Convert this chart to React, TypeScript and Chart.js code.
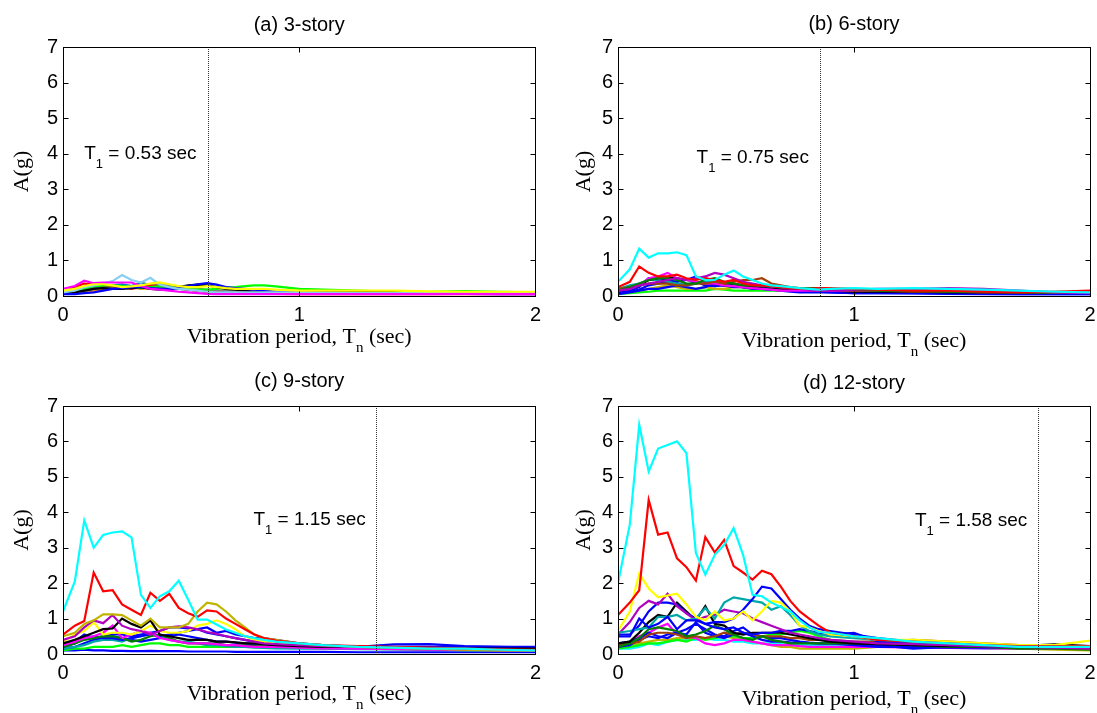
import React, { useEffect, useRef } from "react";
import { Chart, registerables } from "chart.js";

Chart.register(...registerables);
Chart.defaults.font.family = '"Liberation Sans", Arial, sans-serif';

// ---------------- DATA ----------------
const periods = [0, 0.05, 0.09, 0.13, 0.17, 0.21, 0.25, 0.29, 0.33, 0.37, 0.41, 0.45, 0.49, 0.53, 0.57, 0.61, 0.65, 0.69, 0.73, 0.77, 0.81, 0.85, 0.9, 1.0, 1.1, 1.25, 1.4, 1.55, 1.7, 1.85, 2.0];

const xTicks = [0, 1, 2];
const yTicks = [0, 1, 2, 3, 4, 5, 6, 7];

const titles = ["(a) 3-story", "(b) 6-story", "(c) 9-story", "(d) 12-story"];
const t1Values = ["0.53", "0.75", "1.15", "1.58"];
const t1LinePeriods = [0.613, 0.856, 1.323, 1.78];

// (a) 3-story
const a_lightblue = [0.10, 0.15, 0.25, 0.30, 0.35, 0.42, 0.59, 0.45, 0.38, 0.51, 0.32, 0.25, 0.20, 0.18, 0.15, 0.12, 0.10, 0.10, 0.10, 0.10, 0.10, 0.10, 0.10, 0.10, 0.09, 0.08, 0.08, 0.08, 0.08, 0.08, 0.08];
const a_magenta = [0.20, 0.28, 0.43, 0.36, 0.38, 0.38, 0.38, 0.38, 0.28, 0.20, 0.18, 0.15, 0.12, 0.10, 0.08, 0.06, 0.05, 0.05, 0.05, 0.05, 0.05, 0.05, 0.05, 0.05, 0.05, 0.05, 0.05, 0.05, 0.06, 0.05, 0.05];
const a_yellow = [0.15, 0.20, 0.28, 0.33, 0.33, 0.30, 0.25, 0.27, 0.30, 0.35, 0.38, 0.33, 0.28, 0.25, 0.25, 0.28, 0.25, 0.22, 0.20, 0.20, 0.20, 0.20, 0.18, 0.15, 0.15, 0.15, 0.15, 0.13, 0.12, 0.12, 0.12];
const a_blue = [0.05, 0.05, 0.08, 0.10, 0.15, 0.20, 0.22, 0.25, 0.25, 0.22, 0.20, 0.20, 0.22, 0.28, 0.33, 0.36, 0.32, 0.25, 0.22, 0.20, 0.18, 0.15, 0.12, 0.10, 0.10, 0.08, 0.08, 0.07, 0.06, 0.05, 0.05];
const a_black = [0.08, 0.10, 0.15, 0.20, 0.22, 0.20, 0.20, 0.22, 0.25, 0.20, 0.18, 0.20, 0.25, 0.30, 0.32, 0.30, 0.25, 0.20, 0.18, 0.15, 0.12, 0.12, 0.10, 0.10, 0.12, 0.12, 0.10, 0.08, 0.08, 0.07, 0.06];
const a_green = [0.10, 0.15, 0.20, 0.28, 0.30, 0.30, 0.28, 0.25, 0.22, 0.25, 0.28, 0.25, 0.22, 0.20, 0.18, 0.18, 0.20, 0.24, 0.25, 0.28, 0.30, 0.30, 0.27, 0.20, 0.18, 0.15, 0.12, 0.12, 0.14, 0.12, 0.10];
const a_red = [0.10, 0.25, 0.35, 0.32, 0.30, 0.28, 0.25, 0.20, 0.25, 0.30, 0.28, 0.25, 0.22, 0.18, 0.15, 0.12, 0.10, 0.08, 0.08, 0.07, 0.07, 0.06, 0.06, 0.05, 0.05, 0.05, 0.05, 0.05, 0.05, 0.05, 0.05];
const a_orange = [0.05, 0.08, 0.12, 0.15, 0.18, 0.20, 0.22, 0.25, 0.20, 0.22, 0.25, 0.22, 0.20, 0.18, 0.15, 0.12, 0.10, 0.10, 0.10, 0.10, 0.10, 0.10, 0.10, 0.10, 0.10, 0.10, 0.10, 0.10, 0.08, 0.08, 0.08];
const a_steel = [0.05, 0.10, 0.15, 0.20, 0.25, 0.30, 0.33, 0.28, 0.38, 0.30, 0.25, 0.22, 0.20, 0.18, 0.15, 0.12, 0.10, 0.10, 0.09, 0.09, 0.08, 0.08, 0.08, 0.08, 0.10, 0.10, 0.09, 0.08, 0.07, 0.06, 0.06];
const a_gray = [0.10, 0.15, 0.20, 0.22, 0.22, 0.25, 0.30, 0.28, 0.25, 0.30, 0.35, 0.30, 0.25, 0.22, 0.20, 0.18, 0.15, 0.15, 0.13, 0.12, 0.12, 0.12, 0.12, 0.10, 0.10, 0.10, 0.10, 0.09, 0.08, 0.08, 0.08];
const a_olive = [0.12, 0.15, 0.18, 0.25, 0.28, 0.25, 0.22, 0.25, 0.28, 0.32, 0.30, 0.28, 0.24, 0.20, 0.18, 0.16, 0.15, 0.14, 0.13, 0.12, 0.12, 0.12, 0.12, 0.12, 0.12, 0.11, 0.10, 0.10, 0.10, 0.10, 0.10];

// (b) 6-story
const b_cyan = [0.40, 0.75, 1.33, 1.08, 1.20, 1.20, 1.23, 1.15, 0.55, 0.45, 0.45, 0.60, 0.72, 0.55, 0.45, 0.35, 0.30, 0.28, 0.25, 0.22, 0.20, 0.18, 0.20, 0.22, 0.20, 0.22, 0.20, 0.18, 0.15, 0.12, 0.10];
const b_red = [0.25, 0.40, 0.83, 0.65, 0.55, 0.55, 0.60, 0.50, 0.45, 0.50, 0.45, 0.40, 0.45, 0.35, 0.30, 0.30, 0.28, 0.25, 0.22, 0.20, 0.20, 0.22, 0.22, 0.20, 0.18, 0.15, 0.15, 0.12, 0.10, 0.12, 0.15];
const b_purple = [0.15, 0.20, 0.30, 0.35, 0.40, 0.45, 0.50, 0.45, 0.50, 0.55, 0.65, 0.60, 0.50, 0.40, 0.35, 0.30, 0.28, 0.25, 0.22, 0.20, 0.18, 0.15, 0.15, 0.18, 0.20, 0.20, 0.22, 0.20, 0.15, 0.10, 0.08];
const b_brown = [0.20, 0.25, 0.30, 0.35, 0.35, 0.35, 0.30, 0.30, 0.35, 0.35, 0.40, 0.35, 0.40, 0.45, 0.45, 0.50, 0.35, 0.30, 0.25, 0.22, 0.20, 0.20, 0.18, 0.15, 0.15, 0.12, 0.12, 0.10, 0.10, 0.10, 0.10];
const b_dkgreen = [0.15, 0.25, 0.35, 0.45, 0.50, 0.50, 0.45, 0.35, 0.35, 0.45, 0.50, 0.40, 0.35, 0.30, 0.30, 0.30, 0.28, 0.25, 0.22, 0.22, 0.22, 0.22, 0.20, 0.18, 0.15, 0.15, 0.12, 0.12, 0.10, 0.10, 0.10];
const b_blue1 = [0.10, 0.15, 0.25, 0.50, 0.50, 0.45, 0.40, 0.45, 0.55, 0.40, 0.35, 0.40, 0.35, 0.30, 0.25, 0.25, 0.22, 0.20, 0.20, 0.18, 0.15, 0.12, 0.10, 0.08, 0.08, 0.08, 0.07, 0.06, 0.05, 0.05, 0.05];
const b_blue2 = [0.05, 0.10, 0.15, 0.20, 0.20, 0.25, 0.30, 0.25, 0.20, 0.25, 0.35, 0.30, 0.25, 0.25, 0.20, 0.20, 0.18, 0.15, 0.12, 0.10, 0.10, 0.10, 0.10, 0.08, 0.08, 0.07, 0.06, 0.05, 0.05, 0.05, 0.05];
const b_blue3 = [0.08, 0.12, 0.18, 0.30, 0.35, 0.40, 0.35, 0.30, 0.40, 0.30, 0.28, 0.30, 0.28, 0.25, 0.22, 0.20, 0.18, 0.18, 0.16, 0.15, 0.14, 0.12, 0.12, 0.10, 0.10, 0.10, 0.08, 0.08, 0.08, 0.07, 0.07];
const b_olive = [0.10, 0.12, 0.15, 0.20, 0.25, 0.30, 0.25, 0.20, 0.20, 0.25, 0.20, 0.20, 0.25, 0.25, 0.20, 0.20, 0.18, 0.15, 0.15, 0.15, 0.15, 0.14, 0.13, 0.12, 0.12, 0.11, 0.10, 0.10, 0.10, 0.10, 0.10];
const b_black = [0.15, 0.20, 0.30, 0.45, 0.50, 0.50, 0.50, 0.45, 0.40, 0.35, 0.35, 0.30, 0.30, 0.25, 0.25, 0.22, 0.20, 0.18, 0.18, 0.18, 0.15, 0.15, 0.15, 0.12, 0.12, 0.12, 0.10, 0.10, 0.10, 0.10, 0.10];
const b_teal = [0.20, 0.30, 0.35, 0.45, 0.45, 0.40, 0.35, 0.30, 0.35, 0.40, 0.45, 0.35, 0.30, 0.30, 0.30, 0.25, 0.22, 0.20, 0.20, 0.18, 0.18, 0.17, 0.16, 0.15, 0.15, 0.14, 0.13, 0.12, 0.12, 0.12, 0.12];
const b_green = [0.05, 0.08, 0.10, 0.12, 0.15, 0.15, 0.15, 0.15, 0.15, 0.15, 0.20, 0.18, 0.15, 0.15, 0.15, 0.15, 0.15, 0.15, 0.18, 0.20, 0.22, 0.20, 0.18, 0.15, 0.14, 0.13, 0.12, 0.10, 0.10, 0.10, 0.10];
const b_magenta = [0.15, 0.20, 0.30, 0.50, 0.55, 0.65, 0.50, 0.45, 0.40, 0.35, 0.35, 0.30, 0.28, 0.25, 0.22, 0.20, 0.18, 0.15, 0.15, 0.15, 0.15, 0.15, 0.15, 0.15, 0.15, 0.15, 0.15, 0.14, 0.12, 0.10, 0.10];

// (c) 9-story
const c_cyan = [1.20, 2.05, 3.77, 3.00, 3.36, 3.43, 3.46, 3.29, 1.67, 1.30, 1.63, 1.77, 2.07, 1.53, 0.97, 0.97, 0.83, 0.69, 0.60, 0.50, 0.45, 0.40, 0.35, 0.30, 0.25, 0.20, 0.18, 0.15, 0.15, 0.12, 0.10];
const c_red = [0.55, 0.80, 0.93, 2.30, 1.77, 1.80, 1.40, 1.25, 1.10, 1.73, 1.50, 1.70, 1.30, 1.15, 1.05, 1.23, 1.20, 1.00, 0.85, 0.70, 0.55, 0.45, 0.38, 0.30, 0.25, 0.22, 0.20, 0.18, 0.15, 0.13, 0.12];
const c_olive = [0.50, 0.60, 0.85, 0.95, 1.12, 1.12, 1.10, 0.95, 0.80, 1.00, 0.75, 0.75, 0.75, 0.85, 1.20, 1.45, 1.40, 1.20, 0.95, 0.75, 0.55, 0.45, 0.40, 0.30, 0.25, 0.20, 0.18, 0.15, 0.12, 0.10, 0.10];
const c_purple = [0.40, 0.50, 0.75, 0.95, 0.87, 1.10, 0.80, 0.70, 0.65, 0.55, 0.65, 0.75, 0.78, 0.75, 0.70, 0.62, 0.57, 0.50, 0.45, 0.40, 0.35, 0.30, 0.28, 0.25, 0.22, 0.20, 0.18, 0.15, 0.13, 0.12, 0.10];
const c_black = [0.30, 0.40, 0.50, 0.60, 0.70, 0.72, 1.00, 0.85, 0.75, 0.95, 0.55, 0.50, 0.45, 0.40, 0.40, 0.40, 0.35, 0.35, 0.33, 0.30, 0.30, 0.28, 0.25, 0.22, 0.20, 0.20, 0.18, 0.16, 0.15, 0.15, 0.15];
const c_yellow = [0.35, 0.55, 0.65, 0.90, 0.55, 0.60, 0.60, 0.55, 0.65, 0.80, 0.65, 0.60, 0.60, 0.65, 0.80, 0.85, 0.95, 0.85, 0.70, 0.50, 0.40, 0.35, 0.30, 0.25, 0.22, 0.20, 0.18, 0.15, 0.13, 0.12, 0.12];
const c_magenta = [0.25, 0.35, 0.45, 0.50, 0.60, 0.80, 0.45, 0.55, 0.65, 0.60, 0.45, 0.40, 0.35, 0.30, 0.30, 0.30, 0.28, 0.25, 0.25, 0.22, 0.20, 0.20, 0.20, 0.18, 0.16, 0.15, 0.14, 0.12, 0.12, 0.10, 0.10];
const c_blue1 = [0.30, 0.35, 0.55, 0.45, 0.50, 0.55, 0.55, 0.50, 0.55, 0.60, 0.65, 0.75, 0.75, 0.72, 0.70, 0.75, 0.60, 0.65, 0.55, 0.50, 0.45, 0.45, 0.40, 0.30, 0.22, 0.20, 0.27, 0.28, 0.22, 0.20, 0.18];
const c_blue2 = [0.10, 0.10, 0.12, 0.10, 0.10, 0.09, 0.09, 0.08, 0.08, 0.09, 0.08, 0.08, 0.08, 0.07, 0.07, 0.07, 0.07, 0.07, 0.06, 0.06, 0.06, 0.06, 0.06, 0.06, 0.06, 0.05, 0.05, 0.05, 0.05, 0.05, 0.05];
const c_blue3 = [0.20, 0.30, 0.45, 0.50, 0.45, 0.45, 0.40, 0.45, 0.50, 0.55, 0.50, 0.55, 0.60, 0.65, 0.70, 0.60, 0.55, 0.50, 0.45, 0.40, 0.35, 0.35, 0.35, 0.30, 0.25, 0.20, 0.18, 0.15, 0.14, 0.13, 0.12];
const c_blue4 = [0.15, 0.20, 0.30, 0.40, 0.45, 0.50, 0.45, 0.40, 0.35, 0.40, 0.45, 0.50, 0.55, 0.50, 0.45, 0.40, 0.35, 0.35, 0.32, 0.30, 0.28, 0.26, 0.25, 0.22, 0.20, 0.20, 0.20, 0.20, 0.20, 0.20, 0.20];
const c_dkgreen = [0.20, 0.30, 0.40, 0.45, 0.50, 0.50, 0.45, 0.35, 0.40, 0.50, 0.55, 0.45, 0.35, 0.30, 0.30, 0.30, 0.30, 0.25, 0.25, 0.24, 0.23, 0.22, 0.21, 0.20, 0.20, 0.20, 0.15, 0.13, 0.12, 0.10, 0.10];
const c_cyan2 = [0.15, 0.20, 0.25, 0.35, 0.40, 0.40, 0.35, 0.45, 0.50, 0.60, 0.50, 0.40, 0.35, 0.35, 0.30, 0.25, 0.25, 0.22, 0.20, 0.20, 0.18, 0.17, 0.16, 0.15, 0.15, 0.14, 0.13, 0.12, 0.12, 0.11, 0.10];
const c_green = [0.10, 0.15, 0.15, 0.20, 0.20, 0.20, 0.25, 0.20, 0.25, 0.30, 0.30, 0.25, 0.25, 0.20, 0.20, 0.20, 0.20, 0.20, 0.20, 0.20, 0.20, 0.20, 0.18, 0.17, 0.16, 0.15, 0.14, 0.12, 0.11, 0.10, 0.10];

// (d) 12-story
const d_cyan = [2.00, 3.65, 6.47, 5.15, 5.80, 5.90, 6.00, 5.67, 2.85, 2.24, 2.80, 3.08, 3.55, 2.80, 1.67, 1.63, 1.45, 1.33, 1.20, 0.95, 0.75, 0.62, 0.60, 0.50, 0.45, 0.35, 0.30, 0.25, 0.20, 0.20, 0.20];
const d_red = [1.10, 1.45, 1.80, 4.35, 3.37, 3.43, 2.70, 2.45, 2.07, 3.30, 2.87, 3.22, 2.48, 2.30, 2.10, 2.35, 2.25, 1.90, 1.50, 1.20, 1.00, 0.80, 0.60, 0.50, 0.40, 0.35, 0.30, 0.25, 0.22, 0.22, 0.22];
const d_yellow = [0.65, 1.20, 2.27, 1.85, 1.60, 1.65, 1.70, 1.40, 1.05, 0.95, 1.20, 0.95, 1.00, 1.20, 0.95, 1.20, 1.50, 1.45, 1.20, 0.80, 0.75, 0.65, 0.55, 0.50, 0.40, 0.40, 0.35, 0.30, 0.25, 0.25, 0.38];
const d_blue1 = [0.50, 0.50, 1.00, 0.75, 0.85, 1.05, 0.70, 0.95, 0.95, 0.85, 0.90, 0.90, 1.00, 1.25, 1.55, 1.90, 1.85, 1.55, 1.25, 1.00, 0.80, 0.70, 0.65, 0.55, 0.45, 0.35, 0.30, 0.25, 0.25, 0.25, 0.20];
const d_blue2 = [0.55, 0.55, 0.80, 1.20, 1.45, 1.45, 1.40, 1.15, 1.00, 0.85, 0.75, 0.70, 0.75, 0.60, 0.55, 0.60, 0.60, 0.65, 0.65, 0.70, 0.65, 0.60, 0.55, 0.60, 0.35, 0.30, 0.25, 0.22, 0.20, 0.20, 0.20];
const d_teal = [0.60, 0.65, 0.70, 0.75, 1.05, 1.05, 1.10, 0.95, 1.00, 1.30, 1.00, 1.45, 1.60, 1.55, 1.50, 1.45, 1.25, 1.35, 1.10, 0.80, 0.65, 0.55, 0.50, 0.45, 0.40, 0.35, 0.30, 0.25, 0.22, 0.20, 0.20];
const d_purple = [0.55, 0.90, 1.30, 1.50, 1.40, 1.70, 1.35, 1.15, 0.95, 1.05, 1.10, 1.25, 1.20, 1.15, 1.00, 0.90, 0.80, 0.70, 0.60, 0.55, 0.50, 0.45, 0.40, 0.35, 0.30, 0.28, 0.25, 0.22, 0.20, 0.18, 0.15];
const d_black = [0.30, 0.35, 0.60, 0.90, 1.10, 1.05, 1.45, 1.20, 0.95, 1.35, 0.85, 0.80, 0.60, 0.55, 0.60, 0.60, 0.60, 0.60, 0.55, 0.50, 0.45, 0.40, 0.35, 0.30, 0.28, 0.25, 0.22, 0.22, 0.22, 0.27, 0.22];
const d_dkgreen = [0.20, 0.30, 0.45, 0.70, 0.75, 0.70, 0.65, 0.50, 0.55, 0.65, 0.80, 0.70, 0.55, 0.45, 0.40, 0.50, 0.40, 0.35, 0.30, 0.30, 0.30, 0.30, 0.30, 0.30, 0.30, 0.25, 0.20, 0.20, 0.15, 0.15, 0.12];
const d_brown = [0.25, 0.30, 0.35, 0.55, 0.60, 0.60, 0.55, 0.45, 0.50, 0.45, 0.50, 0.60, 0.55, 0.60, 0.55, 0.50, 0.50, 0.50, 0.45, 0.45, 0.40, 0.40, 0.40, 0.35, 0.35, 0.40, 0.35, 0.30, 0.25, 0.20, 0.20];
const d_magenta = [0.20, 0.30, 0.50, 0.60, 0.75, 0.85, 0.55, 0.50, 0.45, 0.30, 0.25, 0.30, 0.40, 0.40, 0.35, 0.30, 0.25, 0.25, 0.25, 0.22, 0.20, 0.20, 0.20, 0.20, 0.20, 0.18, 0.17, 0.16, 0.15, 0.15, 0.15];
const d_green = [0.15, 0.20, 0.25, 0.30, 0.30, 0.35, 0.40, 0.35, 0.45, 0.40, 0.45, 0.50, 0.50, 0.45, 0.45, 0.50, 0.55, 0.55, 0.60, 0.65, 0.60, 0.50, 0.40, 0.30, 0.25, 0.22, 0.20, 0.20, 0.18, 0.18, 0.15];
const d_olive = [0.25, 0.25, 0.30, 0.35, 0.40, 0.40, 0.45, 0.45, 0.45, 0.45, 0.50, 0.50, 0.45, 0.40, 0.35, 0.30, 0.25, 0.20, 0.20, 0.15, 0.15, 0.15, 0.15, 0.15, 0.20, 0.20, 0.18, 0.17, 0.15, 0.12, 0.10];
const d_blue3 = [0.30, 0.35, 0.45, 0.60, 0.50, 0.45, 0.60, 0.70, 0.85, 0.70, 0.55, 0.50, 0.65, 0.75, 0.55, 0.50, 0.45, 0.45, 0.40, 0.35, 0.32, 0.30, 0.30, 0.25, 0.20, 0.20, 0.18, 0.18, 0.18, 0.17, 0.17];
const d_blue4 = [0.20, 0.25, 0.40, 0.50, 0.45, 0.55, 0.60, 0.55, 0.90, 0.60, 0.50, 0.45, 0.55, 0.60, 0.50, 0.40, 0.35, 0.35, 0.33, 0.32, 0.31, 0.30, 0.30, 0.30, 0.25, 0.15, 0.20, 0.20, 0.20, 0.20, 0.20];
const d_cyan2 = [0.15, 0.15, 0.20, 0.30, 0.25, 0.35, 0.40, 0.40, 0.40, 0.45, 0.40, 0.40, 0.35, 0.35, 0.30, 0.30, 0.30, 0.28, 0.25, 0.25, 0.25, 0.25, 0.25, 0.22, 0.20, 0.20, 0.18, 0.15, 0.15, 0.15, 0.15];

// ---------------- STYLE ----------------
const C = {
  cyan: "#00FFFF", red: "#FF0000", yellow: "#FFFF00", blue: "#0000FF", teal: "#00A8A8",
  purple: "#B000C0", black: "#000000", dkgreen: "#008000", brown: "#A0400A", magenta: "#FF00FF",
  green: "#00FF00", olive: "#C0B400", lightblue: "#87CEF0", orange: "#FF8C00", steel: "#0080C0", gray: "#808080",
};

type Series = { color: string; values: number[] };

const seriesA: Series[] = [
  { color: C.yellow, values: a_yellow }, { color: C.magenta, values: a_magenta }, { color: C.lightblue, values: a_lightblue },
  { color: C.blue, values: a_blue }, { color: C.black, values: a_black }, { color: C.green, values: a_green },
  { color: C.red, values: a_red }, { color: C.steel, values: a_steel }, { color: C.orange, values: a_orange },
  { color: C.gray, values: a_gray }, { color: C.olive, values: a_olive },
];
const seriesB: Series[] = [
  { color: C.cyan, values: b_cyan }, { color: C.red, values: b_red }, { color: C.purple, values: b_purple },
  { color: C.dkgreen, values: b_dkgreen }, { color: C.brown, values: b_brown }, { color: C.magenta, values: b_magenta },
  { color: C.black, values: b_black }, { color: C.teal, values: b_teal }, { color: C.blue, values: b_blue1 },
  { color: C.blue, values: b_blue2 }, { color: C.blue, values: b_blue3 }, { color: C.olive, values: b_olive },
  { color: C.green, values: b_green },
];
const seriesC: Series[] = [
  { color: C.cyan, values: c_cyan }, { color: C.red, values: c_red }, { color: C.olive, values: c_olive },
  { color: C.purple, values: c_purple }, { color: C.black, values: c_black }, { color: C.yellow, values: c_yellow },
  { color: C.magenta, values: c_magenta }, { color: C.dkgreen, values: c_dkgreen }, { color: C.blue, values: c_blue1 },
  { color: C.blue, values: c_blue3 }, { color: C.teal, values: c_cyan2 }, { color: C.blue, values: c_blue4 },
  { color: C.green, values: c_green }, { color: C.blue, values: c_blue2 },
];
const seriesD: Series[] = [
  { color: C.cyan, values: d_cyan }, { color: C.red, values: d_red }, { color: C.yellow, values: d_yellow },
  { color: C.blue, values: d_blue1 }, { color: C.teal, values: d_teal }, { color: C.purple, values: d_purple },
  { color: C.blue, values: d_blue2 }, { color: C.black, values: d_black }, { color: C.dkgreen, values: d_dkgreen },
  { color: C.brown, values: d_brown }, { color: C.blue, values: d_blue3 }, { color: C.blue, values: d_blue4 },
  { color: C.magenta, values: d_magenta }, { color: C.green, values: d_green }, { color: C.olive, values: d_olive },
  { color: C.cyan, values: d_cyan2 },
];
const allSeries = [seriesA, seriesB, seriesC, seriesD];

// layout of each panel (figure pixels)
const panels = [
  { left: 0, top: 0, width: 548, height: 356, area: { l: 63, r: 537, t: 47, b: 296 }, yTitlePad: 9, titleY: 25, xLabelY: 343, t1Pos: [0.09, 3.85] },
  { left: 548, top: 0, width: 562, height: 356, area: { l: 618, r: 1090, t: 47, b: 296 }, yTitlePad: 23, titleY: 24, xLabelY: 347, t1Pos: [0.333, 3.74] },
  { left: 0, top: 356, width: 548, height: 357, area: { l: 63, r: 537, t: 406, b: 654 }, yTitlePad: 9, titleY: 25, xLabelY: 344, t1Pos: [0.806, 3.64] },
  { left: 548, top: 356, width: 562, height: 357, area: { l: 618, r: 1090, t: 406, b: 654 }, yTitlePad: 23, titleY: 27, xLabelY: 349, t1Pos: [1.258, 3.61] },
];

const SANS = '"Liberation Sans", Arial, sans-serif';
const SERIF = '"Liberation Serif", "Times New Roman", serif';

function Panel({ idx }: { idx: number }) {
  const ref = useRef<HTMLCanvasElement>(null);
  const p = panels[idx];
  useEffect(() => {
    const canvas = ref.current!;
    const overlay = {
      id: "overlay",
      afterDatasetsDraw(chart: any) {
        const { ctx, chartArea: ca } = chart;
        const xs = chart.scales.x;
        const ys = chart.scales.y;
        ctx.save();
        // dotted T1 line
        const lx = Math.round(xs.getPixelForValue(t1LinePeriods[idx])) + 0.5;
        ctx.strokeStyle = "#333";
        ctx.lineWidth = 1;
        ctx.setLineDash([1, 1]);
        ctx.beginPath();
        ctx.moveTo(lx, ca.top);
        ctx.lineTo(lx, ca.bottom);
        ctx.stroke();
        ctx.setLineDash([]);
        // box
        ctx.strokeStyle = "#000";
        const L = Math.round(ca.left) + 0.5, R = Math.round(ca.right) + 0.5;
        const T = Math.round(ca.top) + 0.5, B = Math.round(ca.bottom) + 0.5;
        ctx.strokeRect(L, T, R - L, B - T);
        // inward ticks
        const tl = 5;
        ctx.beginPath();
        xs.ticks.forEach((t: any) => {
          const px = Math.round(xs.getPixelForValue(t.value)) + 0.5;
          ctx.moveTo(px, B); ctx.lineTo(px, B - tl);
          ctx.moveTo(px, T); ctx.lineTo(px, T + tl);
        });
        ys.ticks.forEach((t: any) => {
          const py = Math.round(ys.getPixelForValue(t.value)) + 0.5;
          ctx.moveTo(L, py); ctx.lineTo(L + tl, py);
          ctx.moveTo(R, py); ctx.lineTo(R - tl, py);
        });
        ctx.stroke();
        ctx.restore();
      },
      afterDraw(chart: any) {
        const { ctx, chartArea: ca } = chart;
        const xs = chart.scales.x;
        const ys = chart.scales.y;
        const cx = (ca.left + ca.right) / 2;
        ctx.save();
        ctx.fillStyle = "#000";
        // title
        ctx.font = `20px ${SANS}`;
        ctx.textAlign = "center";
        ctx.textBaseline = "middle";
        ctx.fillText(titles[idx], cx, p.titleY);
        // x label with subscript
        ctx.textAlign = "left";
        ctx.textBaseline = "alphabetic";
        const mainF = `22px ${SERIF}`, subF = `15px ${SERIF}`;
        const s1 = "Vibration period, T", s2 = "n", s3 = " (sec)";
        ctx.font = mainF; const w1 = ctx.measureText(s1).width; const w3 = ctx.measureText(s3).width;
        ctx.font = subF; const w2 = ctx.measureText(s2).width;
        const x0 = cx - (w1 + w2 + w3) / 2;
        ctx.font = mainF; ctx.fillText(s1, x0, p.xLabelY);
        ctx.font = subF; ctx.fillText(s2, x0 + w1, p.xLabelY + 9);
        ctx.font = mainF; ctx.fillText(s3, x0 + w1 + w2, p.xLabelY);
        // T1 annotation
        const tx = xs.getPixelForValue(p.t1Pos[0]);
        const ty = ys.getPixelForValue(p.t1Pos[1]);
        const m1 = "T", m2 = "1", m3 = ` = ${t1Values[idx]} sec`;
        const aF = `19px ${SANS}`, aS = `13px ${SANS}`;
        ctx.font = aF; const q1 = ctx.measureText(m1).width;
        ctx.font = aS; const q2 = ctx.measureText(m2).width;
        ctx.font = aF; ctx.fillText(m1, tx, ty);
        ctx.font = aS; ctx.fillText(m2, tx + q1, ty + 9);
        ctx.font = aF; ctx.fillText(m3, tx + q1 + q2, ty);
        ctx.restore();
      },
    };

    const datasets = allSeries[idx].map((s) => ({
      data: periods.map((x, i) => ({ x, y: s.values[i] })),
      borderColor: s.color,
      backgroundColor: s.color,
      borderWidth: 2.2,
      pointRadius: 0,
      tension: 0,
      fill: false,
    }));

    const tickFont = { family: SANS, size: 20 };
    const chart = new Chart(canvas, {
      type: "line",
      data: { datasets },
      plugins: [overlay],
      options: {
        responsive: false,
        animation: false,
        devicePixelRatio: 1,
        events: [],
        layout: {
          padding: {
            left: 0,
            right: p.left + p.width - p.area.r,
            top: p.area.t - p.top,
            bottom: 0,
          },
        },
        plugins: { legend: { display: false }, title: { display: false }, tooltip: { enabled: false } },
        scales: {
          x: {
            type: "linear",
            min: 0,
            max: 2,
            afterBuildTicks: (s: any) => { s.ticks = xTicks.map((v) => ({ value: v })); },
            afterFit: (s: any) => { s.height = p.top + p.height - p.area.b; },
            ticks: { font: tickFont, color: "#000", padding: 7, maxRotation: 0, autoSkip: false },
            grid: { display: false, drawTicks: false },
            border: { display: false },
          },
          y: {
            type: "linear",
            min: 0,
            max: 7,
            afterBuildTicks: (s: any) => { s.ticks = yTicks.map((v) => ({ value: v })); },
            afterFit: (s: any) => { s.width = p.area.l - p.left; },
            ticks: { font: tickFont, color: "#000", padding: 5, autoSkip: false },
            grid: { display: false, drawTicks: false },
            border: { display: false },
            title: {
              display: true,
              text: "A(g)",
              color: "#000",
              font: { family: SERIF, size: 22 },
              padding: { top: p.yTitlePad, bottom: 0 },
            },
          },
        },
      } as any,
    });
    return () => chart.destroy();
  }, []);
  return (
    <canvas
      ref={ref}
      width={p.width}
      height={p.height}
      style={{ position: "absolute", left: p.left, top: p.top, width: p.width, height: p.height }}
    />
  );
}

export default function App() {
  return (
    <div style={{ position: "absolute", left: 0, top: 0, width: 1097, height: 713, background: "#fff", overflow: "hidden" }}>
      {[0, 1, 2, 3].map((i) => (
        <Panel key={i} idx={i} />
      ))}
    </div>
  );
}
